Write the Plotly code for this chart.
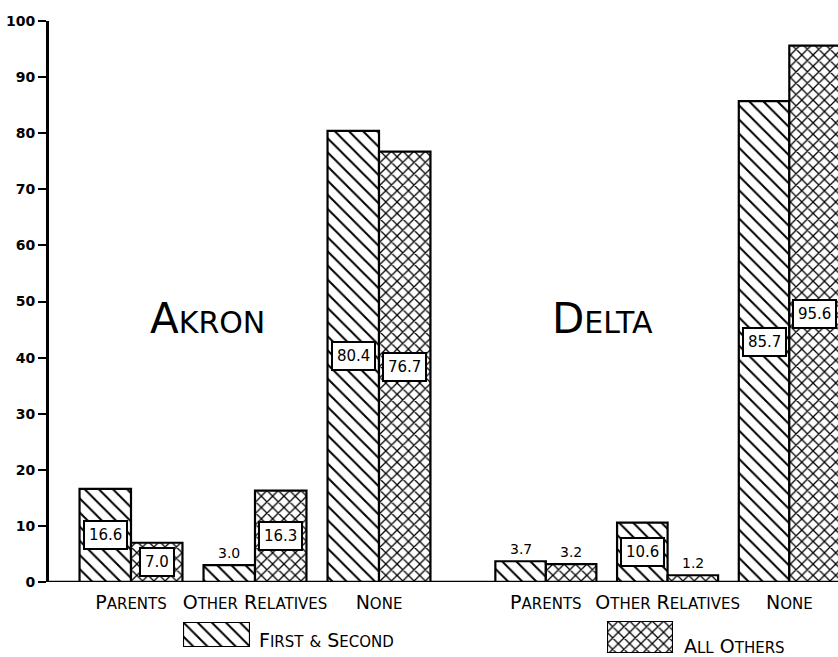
import plotly.graph_objects as go

# ---- data ----
categories = ["Parents", "Other Relatives", "None"]
series_names = ["First & Second", "All Others"]
akron_first_second = [16.6, 3.0, 80.4]
akron_all_others = [7.0, 16.3, 76.7]
delta_first_second = [3.7, 10.6, 85.7]
delta_all_others = [3.2, 1.2, 95.6]
y_ticks = [0, 10, 20, 30, 40, 50, 60, 70, 80, 90, 100]

W, H = 838, 657
ML, MR, MT, MB = 47, 0, 21, 4
PW, PH = W - ML - MR, H - MT - MB


def fx(px):
    return (px - ML) / PW


def fy(py):
    return (H - MB - py) / PH


def smallcaps(text, small):
    out = []
    for word in text.split(" "):
        if word == "&":
            out.append(f"<span style='font-size:{small}px'>&amp;</span>")
            continue
        out.append(word[0].upper() +
                   f"<span style='font-size:{small}px'>{word[1:].upper()}</span>")
    return " ".join(out)


FONT = "DejaVu Sans"
BARGAP = 0.17
patterns = {
    "First & Second": dict(shape="\\", size=10, solidity=0.2, fgcolor="black", fgopacity=1,
                           bgcolor="white", fillmode="replace"),
    "All Others": dict(shape="x", size=8, solidity=0.3, fgcolor="black", fgopacity=1,
                       bgcolor="white", fillmode="replace"),
}

fig = go.Figure()
groups = [("x", akron_first_second, akron_all_others), ("x2", delta_first_second, delta_all_others)]
idx = list(range(len(categories)))
for xa, fs, ao in groups:
    for name, vals in zip(series_names, [fs, ao]):
        fig.add_trace(go.Bar(
            x=idx, y=vals, name=name, xaxis=xa, yaxis="y",
            marker=dict(color="white", pattern=patterns[name], line=dict(color="black", width=2.2)),
            showlegend=False, hoverinfo="skip",
        ))

# value labels
off = (1 - BARGAP) / 4
annotations = []
for xa, fs, ao in groups:
    for sign, vals in [(-1, fs), (1, ao)]:
        for i, v in enumerate(vals):
            if v >= 5:
                annotations.append(dict(
                    x=i + sign * off, y=v / 2, xref=xa, yref="y", text=f"{v:.1f}",
                    xanchor="center", yanchor="middle",
                    showarrow=False, font=dict(family=FONT, size=15, color="black"),
                    bgcolor="white", bordercolor="black", borderwidth=2, borderpad=4,
                ))
            else:
                annotations.append(dict(
                    x=i + sign * off, y=v, xref=xa, yref="y", text=f"{v:.1f}",
                    xanchor="center", yanchor="bottom", yshift=2,
                    showarrow=False, font=dict(family=FONT, size=14, color="black"),
                ))

# group titles
for name, xp in [("Akron", fx(207)), ("Delta", fx(602))]:
    annotations.append(dict(
        x=xp, y=47, xref="paper", yref="y", text=smallcaps(name, 30),
        xanchor="center", yanchor="middle",
        showarrow=False, font=dict(family=FONT, size=42, color="black"),
    ))

# legend texts
annotations.append(dict(x=fx(257), y=fy(640), xref="paper", yref="paper",
                        xanchor="left", yanchor="middle", showarrow=False,
                        text=smallcaps("First & Second", 15),
                        font=dict(family=FONT, size=19, color="black")))
annotations.append(dict(x=fx(682), y=fy(646), xref="paper", yref="paper",
                        xanchor="left", yanchor="middle", showarrow=False,
                        text=smallcaps("All Others", 15),
                        font=dict(family=FONT, size=19, color="black")))

# legend swatches as small bar subplots
for name, xa, ya in [("First & Second", "x3", "y3"), ("All Others", "x4", "y4")]:
    fig.add_trace(go.Bar(x=[0], y=[1], xaxis=xa, yaxis=ya, width=[1],
                         marker=dict(color="white", pattern=patterns[name], line=dict(color="black", width=2.2)),
                         showlegend=False, hoverinfo="skip"))

tick_text = [smallcaps(c, 15) for c in categories]

xcommon = dict(tickvals=idx, ticktext=tick_text, showline=False, showgrid=False, zeroline=False,
               ticks="", tickfont=dict(family=FONT, size=19, color="black"), ticklabelstandoff=7,
               fixedrange=True, automargin=False)

fig.update_layout(
    width=W, height=H,
    margin=dict(l=ML, r=MR, t=MT, b=MB, autoexpand=False),
    paper_bgcolor="white", plot_bgcolor="white",
    barmode="group", bargap=BARGAP, bargroupgap=0,
    xaxis=dict(domain=[fx(69), fx(441)], range=[-0.5, 2.5], anchor="y", **xcommon),
    xaxis2=dict(domain=[fx(485), 1.0], range=[-0.5, 2.4], anchor="y", **xcommon),
    yaxis=dict(domain=[fy(582), 1.0], range=[0, 100], tickvals=y_ticks, anchor="free", position=0,
               showline=True, linewidth=3, linecolor="black", ticks="outside", ticklen=8,
               tickwidth=2, tickcolor="black", showgrid=False, zeroline=False, automargin=False,
               tickfont=dict(family=FONT, size=14, color="black", weight="bold"), fixedrange=True),
    xaxis3=dict(domain=[fx(183), fx(250)], range=[-0.5, 0.5], anchor="y3", visible=False),
    yaxis3=dict(domain=[fy(647), fy(622)], range=[0, 1], anchor="x3", visible=False),
    xaxis4=dict(domain=[fx(607), fx(673)], range=[-0.5, 0.5], anchor="y4", visible=False),
    yaxis4=dict(domain=[fy(653), fy(621)], range=[0, 1], anchor="x4", visible=False),
    annotations=annotations,
    shapes=[dict(type="line", xref="paper", yref="y", x0=0, x1=1, y0=0, y1=0,
                 line=dict(color="black", width=2.5))],
    showlegend=False,
)

fig.write_html("out.html", config={"displayModeBar": False},
               post_script="document.body.style.margin='0';document.body.style.overflow='hidden';")
